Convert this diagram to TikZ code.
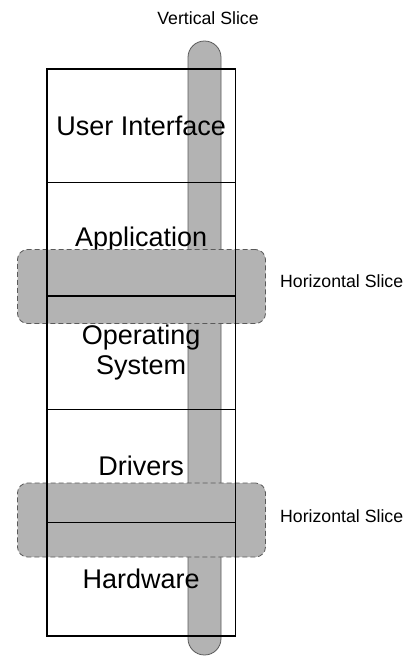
\documentclass[tikz,border=0pt]{standalone}
\usepackage{fontspec}
\setmainfont{Liberation Sans}
\definecolor{slicefill}{RGB}{179,179,179}
\definecolor{sliceedge}{RGB}{90,90,90}
\begin{document}
\begin{tikzpicture}[x=1pt,y=-1pt,
 layer/.style={minimum width=188pt, minimum height=113.3pt, inner sep=0pt, font=\fontsize{27}{30}\selectfont, align=center, anchor=north west},
 vslicebox/.style={fill=slicefill, draw=sliceedge, line width=0.8pt, rounded corners=16.4pt, minimum width=33pt, minimum height=614pt, inner sep=0pt},
 hslicebox/.style={fill=slicefill, draw=sliceedge, dash pattern=on 5pt off 3pt, line width=0.8pt, rounded corners=10pt, minimum width=248pt, minimum height=74pt, inner sep=0pt},
 edgeline/.style={draw=black, line width=1.2pt},
 slicelabel/.style={font=\fontsize{17.7}{20}\selectfont, anchor=base, inner sep=0pt}]
\useasboundingbox (0,0) rectangle (420,656);
% vertical slice
\node[vslicebox] (vs) at (204.5,348) {};
% layers with text
\node[layer] (ui) at (47,69) {User Interface};
\node[layer] (app) at (47,182.3) {Application};
\node[layer] (os) at (47,295.6) {Operating\\System};
\node[layer] (drv) at (47,408.9) {Drivers};
\node[layer] (hw) at (47,522.2) {Hardware};
% horizontal slices
\node[hslicebox] (hs1) at (141.5,286.5) {};
\node[hslicebox] (hs2) at (141.5,520) {};
% borders
\draw[edgeline] (ui.north west) rectangle (hw.south east);
\draw[edgeline] (ui.south west) -- (ui.south east);
\draw[edgeline] (app.south west) -- (app.south east);
\draw[edgeline] (os.south west) -- (os.south east);
\draw[edgeline] (drv.south west) -- (drv.south east);
% labels
\node[slicelabel] (vlab) at (208,24) {Vertical Slice};
\node[slicelabel, anchor=base west] (hlab1) at (280,287) {Horizontal Slice};
\node[slicelabel, anchor=base west] (hlab2) at (280,522) {Horizontal Slice};
\end{tikzpicture}
\end{document}
